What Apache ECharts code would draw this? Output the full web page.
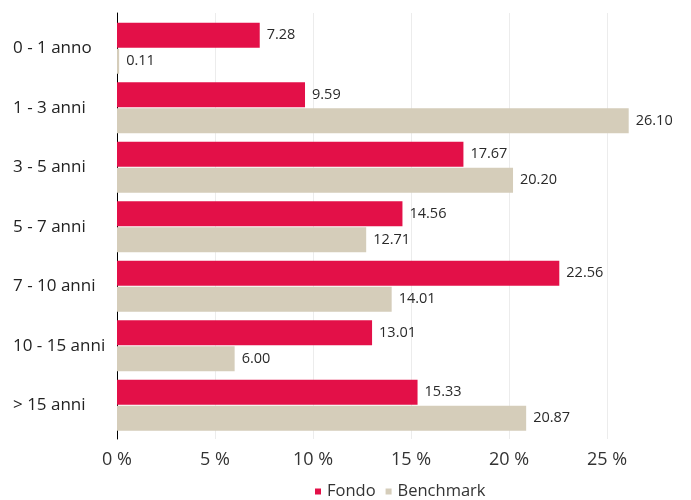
<!DOCTYPE html>
<html><head><meta charset="utf-8">
<script src="https://cdn.jsdelivr.net/npm/echarts@6/dist/echarts.min.js"></script>
<style>html,body{margin:0;padding:0;background:#fff}#c{width:691px;height:500px}</style>
</head><body><div id="c"></div>
<script>
const categories = ["0 - 1 anno", "1 - 3 anni", "3 - 5 anni", "5 - 7 anni", "7 - 10 anni", "10 - 15 anni", "> 15 anni"];
const fondo = [7.28, 9.59, 17.67, 14.56, 22.56, 13.01, 15.33];
const benchmark = [0.11, 26.10, 20.20, 12.71, 14.01, 6.00, 20.87];
const seriesNames = ["Fondo", "Benchmark"];
const xMax = Math.max(...fondo, ...benchmark);
const FONT = "'Open Sans', 'Noto Sans', sans-serif";
const chart = echarts.init(document.getElementById('c'));
const valLabel = {show: true, position: 'right', distance: 7, color: '#2a2a2a', fontSize: 14.5, fontFamily: FONT,
  formatter: p => p.value.toFixed(2)};
chart.setOption({
  animation: false,
  grid: [
    {left: 117, right: 62.3, top: 18.5, bottom: 65},
    {left: 117, right: 62.3, top: 13, bottom: 61}
  ],
  legend: {top: 483, left: 315, padding: 0, itemWidth: 6, itemHeight: 6, itemGap: 10, icon: 'rect',
    textStyle: {fontSize: 16.5, color: '#333', fontFamily: FONT, padding: [0, 0, 0, 1]},
    data: seriesNames},
  xAxis: [
    {gridIndex: 0, type: 'value', min: 0, max: xMax, show: false, splitLine: {show: false}},
    {gridIndex: 1, type: 'value', min: 0, max: xMax, interval: 5,
      axisLine: {show: false}, axisTick: {show: false},
      splitLine: {show: true, showMaxLine: false, lineStyle: {color: '#ececec', width: 1}},
      axisLabel: {formatter: '{value} %', showMaxLabel: false, fontSize: 18, color: '#333', fontFamily: FONT, margin: 12}}
  ],
  yAxis: [
    {gridIndex: 0, type: 'category', inverse: true, data: categories,
      axisLine: {show: false}, axisTick: {show: false}, splitLine: {show: false},
      axisLabel: {align: 'left', margin: 104, fontSize: 17, color: '#222', fontFamily: FONT}},
    {gridIndex: 1, type: 'value', min: 0, max: 1,
      axisLine: {show: true, lineStyle: {color: '#000', width: 1}}, axisTick: {show: false},
      axisLabel: {show: false}, splitLine: {show: false}}
  ],
  series: [
    {name: seriesNames[0], type: 'bar', xAxisIndex: 0, yAxisIndex: 0, data: fondo, barWidth: 25, barGap: '4%',
      itemStyle: {color: '#E31048'}, label: valLabel},
    {name: seriesNames[1], type: 'bar', xAxisIndex: 0, yAxisIndex: 0, data: benchmark, barWidth: 25,
      itemStyle: {color: '#D5CDBA'}, label: valLabel}
  ]
});
</script></body></html>
